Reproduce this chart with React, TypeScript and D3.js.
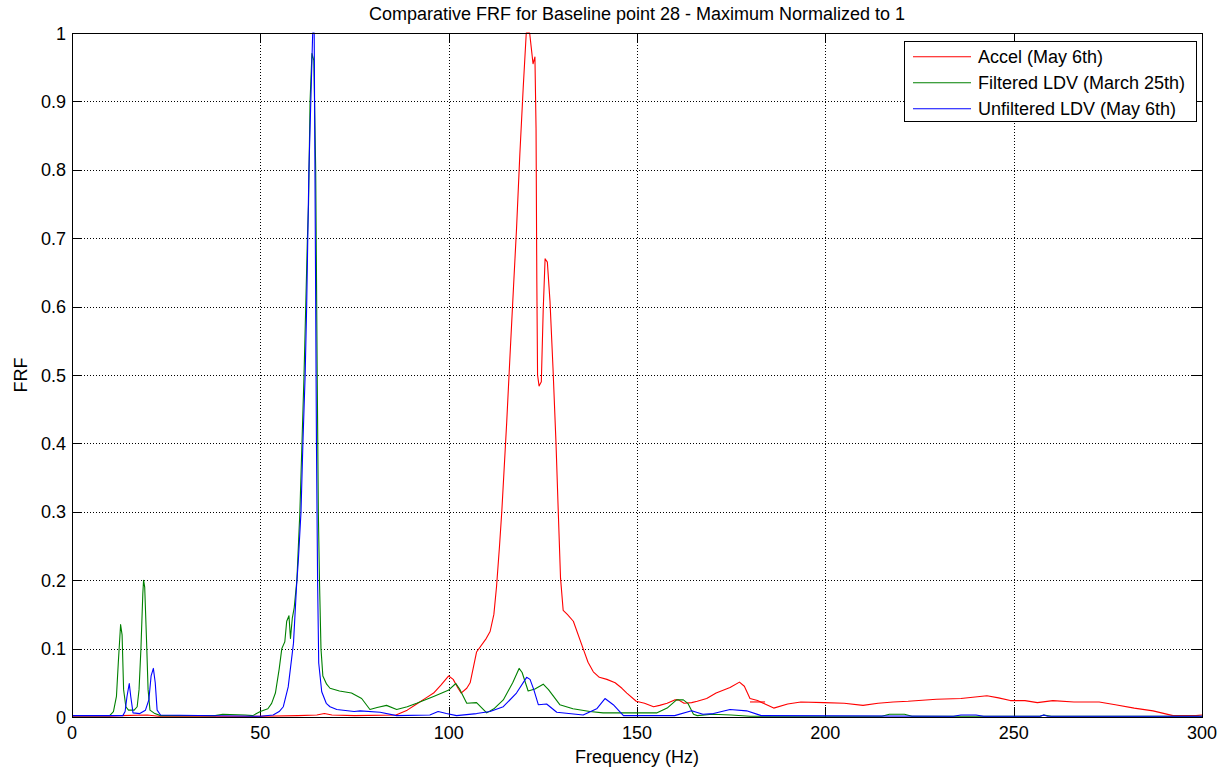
import React from "react";
import * as d3 from "d3";

// ---- Data (frequency Hz, normalized FRF) ----
const xTicks = [0, 50, 100, 150, 200, 250, 300];
const yTicks = [0, 0.1, 0.2, 0.3, 0.4, 0.5, 0.6, 0.7, 0.8, 0.9, 1];

const seriesNames = ["Accel (May 6th)", "Filtered LDV (March 25th)", "Unfiltered LDV (May 6th)"];

const accel: [number, number][] = [
  [0, 0.001], [10, 0.001], [13, 0.002], [20, 0.003], [23, 0.001], [50, 0.001], [60, 0.002], [65, 0.003],
  [67, 0.005], [69, 0.003], [75, 0.002], [86, 0.003], [89, 0.01], [91.5, 0.019], [94, 0.028], [96, 0.035],
  [98, 0.047], [100, 0.06], [101.2, 0.055], [102.5, 0.042], [103.3, 0.035], [104.8, 0.042], [105.7, 0.05],
  [107.4, 0.095], [110, 0.115], [111, 0.125], [112, 0.15], [112.7, 0.19], [113.5, 0.25], [114.1, 0.3],
  [115.4, 0.43], [116.3, 0.53], [117.2, 0.627], [118, 0.712], [118.9, 0.823], [119.8, 0.921], [120.6, 1.0],
  [121.5, 1.0], [122, 0.975], [122.4, 0.955], [122.9, 0.965], [123.2, 0.86], [123.4, 0.64], [123.6, 0.5],
  [124.0, 0.484], [124.6, 0.49], [125.1, 0.595], [125.6, 0.67], [126.2, 0.665], [126.9, 0.608], [127.7, 0.51],
  [128.5, 0.4], [129.1, 0.3], [129.7, 0.203], [130.4, 0.156], [131.5, 0.15], [133.1, 0.14], [135.7, 0.1],
  [137, 0.08], [138.4, 0.066], [140, 0.058], [142, 0.055], [144.2, 0.05], [146, 0.042], [147.3, 0.035],
  [149.8, 0.023], [152, 0.02], [154.4, 0.015], [156, 0.017], [158, 0.02], [160, 0.025], [161, 0.025],
  [162.5, 0.02], [164.5, 0.021], [166, 0.023], [168.5, 0.027], [171, 0.035], [174.7, 0.043], [177.2, 0.051],
  [178.5, 0.045], [180, 0.027], [182, 0.024], [186.3, 0.013], [190, 0.019], [193.5, 0.022], [199.7, 0.021],
  [205, 0.02], [210, 0.017], [214, 0.02], [218, 0.022], [222, 0.023], [229.5, 0.026], [236, 0.027],
  [242.9, 0.031], [246, 0.028], [249.1, 0.024], [253, 0.024], [256.3, 0.021], [260.4, 0.024], [266, 0.022],
  [272.7, 0.022], [277, 0.018], [282, 0.013], [287, 0.009], [292.3, 0.002], [298.4, 0.002], [300, 0.003],
];

const accelStub: [number, number][] = [[180, 0.022], [184, 0.022]];

const filteredLDV: [number, number][] = [
  [0, 0.002], [10, 0.002], [11, 0.008], [11.8, 0.03], [12.3, 0.08], [12.9, 0.135], [13.3, 0.12], [13.7, 0.04],
  [14.3, 0.015], [15, 0.01], [16.5, 0.01], [17.3, 0.015], [17.8, 0.04], [18.3, 0.1], [18.8, 0.18], [19.0, 0.2],
  [19.3, 0.19], [19.8, 0.11], [20.2, 0.04], [20.7, 0.01], [22, 0.005], [23.5, 0.002], [38, 0.002], [40, 0.004],
  [46, 0.003], [48, 0.002], [50, 0.008], [52, 0.012], [53, 0.02], [54, 0.035], [55, 0.07], [55.7, 0.1],
  [56.5, 0.11], [57, 0.14], [57.6, 0.148], [58, 0.115], [58.5, 0.145], [59, 0.16], [59.7, 0.2], [60.5, 0.3],
  [61.6, 0.5], [62.5, 0.7], [62.8, 0.75], [63.2, 0.9], [63.7, 0.97], [64.2, 0.96], [64.7, 0.8], [65.1, 0.5],
  [65.4, 0.3], [65.7, 0.2], [66.1, 0.1], [66.6, 0.06], [67.6, 0.048], [68.5, 0.042], [71, 0.038],
  [74.2, 0.035], [76.9, 0.027], [79.1, 0.011], [81, 0.014], [83.5, 0.017], [86.2, 0.011], [89, 0.015],
  [91.5, 0.02], [96, 0.03], [99.9, 0.039], [101.9, 0.049], [103, 0.04], [104.8, 0.02], [107.4, 0.021],
  [110.1, 0.006], [112, 0.012], [114.5, 0.025], [117, 0.05], [118.7, 0.071], [119.5, 0.065], [121.1, 0.038],
  [122.9, 0.041], [125.1, 0.048], [126.5, 0.04], [129.5, 0.018], [133, 0.012], [137.5, 0.008], [141, 0.006],
  [155.2, 0.006], [158, 0.013], [160.5, 0.025], [162.3, 0.025], [163.5, 0.02], [165, 0.004], [166, 0.002],
  [170, 0.004], [175, 0.003], [180, 0.001], [215, 0.001], [217, 0.004], [221, 0.004], [223, 0.001],
  [257, 0.001], [258, 0.003], [260, 0.001], [300, 0.001],
];

const unfilteredLDV: [number, number][] = [
  [0, 0.002], [13.5, 0.002], [14.1, 0.008], [14.6, 0.03], [15.2, 0.049], [15.6, 0.03], [16.2, 0.006],
  [18, 0.005], [19.5, 0.01], [20.4, 0.025], [21, 0.06], [21.6, 0.071], [22.1, 0.05], [22.6, 0.01],
  [23.5, 0.003], [50, 0.001], [53.4, 0.003], [55, 0.008], [56.1, 0.015], [57.4, 0.044], [58.8, 0.108],
  [59.6, 0.19], [60.1, 0.23], [60.8, 0.3], [61.3, 0.4], [61.9, 0.5], [62.3, 0.6], [62.6, 0.7], [62.9, 0.8],
  [63.4, 0.9], [63.9, 1.0], [64.3, 1.0], [64.6, 0.7], [64.9, 0.4], [65.2, 0.2], [65.5, 0.079], [66.3, 0.037],
  [67.5, 0.02], [68.5, 0.015], [70.3, 0.011], [74.9, 0.008], [76.5, 0.009], [81.8, 0.007], [86.2, 0.002],
  [95, 0.003], [97.2, 0.008], [99.4, 0.005], [102.1, 0.002], [107.4, 0.005], [111, 0.008], [114.5, 0.015],
  [118, 0.035], [120.7, 0.058], [121.6, 0.055], [122.6, 0.04], [123.8, 0.018], [126, 0.019], [128.7, 0.007],
  [135.7, 0.003], [139.3, 0.012], [141.5, 0.027], [143.7, 0.018], [146.4, 0.002], [160, 0.002],
  [164.5, 0.009], [167.5, 0.004], [170.3, 0.005], [174.7, 0.011], [179.1, 0.009], [183, 0.002],
  [234, 0.001], [236, 0.003], [240, 0.003], [242, 0.001], [257, 0.001], [258, 0.003], [259, 0.001],
  [300, 0.001],
];

const colors = ["#ff0000", "#008000", "#0000ff"];

export default function App() {
  const W = 1225, H = 771;
  const left = 72, right = 1202, top = 33, bottom = 717;
  const x = d3.scaleLinear().domain([0, 300]).range([left, right]);
  const y = d3.scaleLinear().domain([0, 1]).range([bottom, top]);
  const line = d3.line<[number, number]>().x(d => x(d[0])).y(d => y(d[1]));
  const font = "'Liberation Sans', Arial, Helvetica, sans-serif";
  const fs = 18;
  const tickLen = 10;
  const series = [accel, filteredLDV, unfilteredLDV];

  const legX = 904, legY = 41, legW = 292, legH = 80;

  return (
    <svg width={W} height={H} style={{ position: "absolute", left: 0, top: 0, background: "#fff" }}
      fontFamily={font} fontSize={fs}>
      <rect x={0} y={0} width={W} height={H} fill="#fff" />
      {/* grid */}
      <g stroke="#000" strokeWidth={1} strokeDasharray="1 2" shapeRendering="crispEdges">
        {xTicks.slice(1, -1).map(t => (
          <line key={"gx" + t} x1={Math.round(x(t)) + 0.5} x2={Math.round(x(t)) + 0.5} y1={top} y2={bottom} />
        ))}
        {yTicks.slice(1, -1).map(t => (
          <line key={"gy" + t} x1={left} x2={right} y1={Math.round(y(t)) + 0.5} y2={Math.round(y(t)) + 0.5} />
        ))}
      </g>
      {/* ticks */}
      <g stroke="#000" strokeWidth={1} shapeRendering="crispEdges">
        {xTicks.map(t => (
          <g key={"tx" + t}>
            <line x1={Math.round(x(t)) + 0.5} x2={Math.round(x(t)) + 0.5} y1={bottom} y2={bottom - tickLen} />
            <line x1={Math.round(x(t)) + 0.5} x2={Math.round(x(t)) + 0.5} y1={top} y2={top + tickLen} />
          </g>
        ))}
        {yTicks.map(t => (
          <g key={"ty" + t}>
            <line x1={left} x2={left + tickLen} y1={Math.round(y(t)) + 0.5} y2={Math.round(y(t)) + 0.5} />
            <line x1={right} x2={right - tickLen} y1={Math.round(y(t)) + 0.5} y2={Math.round(y(t)) + 0.5} />
          </g>
        ))}
      </g>
      {/* series */}
      <g fill="none" strokeWidth={1.1} strokeLinejoin="round">
        {series.map((s, i) => (
          <path key={"s" + i} d={line(s) || ""} stroke={colors[i]} />
        ))}
        <path d={line(accelStub) || ""} stroke={colors[0]} />
      </g>
      {/* axes box */}
      <rect x={left + 0.5} y={top + 0.5} width={right - left} height={bottom - top} fill="none" stroke="#000"
        strokeWidth={1} shapeRendering="crispEdges" />
      {/* tick labels */}
      <g fill="#000">
        {xTicks.map(t => (
          <text key={"lx" + t} x={x(t)} y={739} textAnchor="middle">{t}</text>
        ))}
        {yTicks.map(t => (
          <text key={"ly" + t} x={66} y={y(t) + 6.5} textAnchor="end">{d3.format("~g")(t)}</text>
        ))}
      </g>
      {/* labels */}
      <text x={(left + right) / 2} y={20} textAnchor="middle">Comparative FRF for Baseline point 28 - Maximum Normalized to 1</text>
      <text x={(left + right) / 2} y={763} textAnchor="middle">Frequency (Hz)</text>
      <text transform={`translate(27, ${(top + bottom) / 2}) rotate(-90)`} textAnchor="middle">FRF</text>
      {/* legend */}
      <rect x={legX + 0.5} y={legY + 0.5} width={legW} height={legH} fill="#fff" stroke="#000" strokeWidth={1}
        shapeRendering="crispEdges" />
      {seriesNames.map((n, i) => {
        const cy = legY + 15.7 + i * 26;
        return (
          <g key={"lg" + i}>
            <line x1={913} x2={971} y1={cy} y2={cy} stroke={colors[i]} strokeWidth={1.1} />
            <text x={978} y={cy + 6.5}>{n}</text>
          </g>
        );
      })}
    </svg>
  );
}
